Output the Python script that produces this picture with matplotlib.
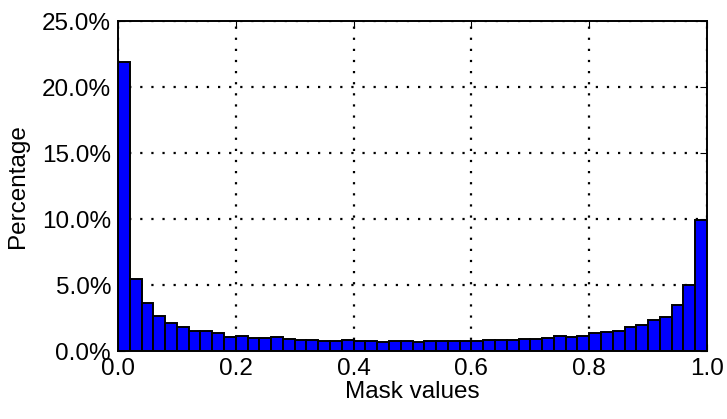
import matplotlib
matplotlib.use("Agg")
import matplotlib.pyplot as plt
import numpy as np
from matplotlib.ticker import FuncFormatter

bin_edges = [i / 50 for i in range(51)]
percent = [21.9, 5.43, 3.6, 2.68, 2.1, 1.82, 1.52, 1.49, 1.39, 1.04,
           1.1, 0.98, 0.96, 1.03, 0.88, 0.81, 0.81, 0.78, 0.76, 0.83,
           0.73, 0.76, 0.71, 0.76, 0.73,
           0.71, 0.73, 0.78, 0.78, 0.76, 0.78, 0.86, 0.83, 0.86, 0.93,
           0.93, 0.96, 1.16, 1.03, 1.16, 1.39, 1.44, 1.52, 1.8, 1.94,
           2.35, 2.58, 3.48, 4.97, 9.95]

fig = plt.figure(figsize=(7.27, 4.19), dpi=100)
ax = fig.add_axes([118/727, 1-351/419, 589/727, 330/419])
ax.bar(bin_edges[:-1], percent, width=0.02, align='edge', color='#0000ff',
       edgecolor='black', linewidth=1.4, zorder=2)
ax.set_xlim(0, 1)
ax.set_ylim(0, 25)
ax.set_xticks([0, 0.2, 0.4, 0.6, 0.8, 1.0])
ax.set_yticks([0, 5, 10, 15, 20, 25])
ax.yaxis.set_major_formatter(FuncFormatter(lambda v, p: f"{v:.1f}%"))
ax.xaxis.set_major_formatter(FuncFormatter(lambda v, p: f"{v:.1f}"))
ax.grid(True, color='black', linestyle=(0, (1, 4)), linewidth=1.6, zorder=0)
ax.set_axisbelow(True)
ax.tick_params(direction='in', labelsize=17.5, top=True, right=True, length=5, pad=5)
for s in ax.spines.values():
    s.set_linewidth(1.4)
ax.set_xlabel("Mask values", fontsize=17.5, labelpad=1, family='Liberation Sans')
ax.set_ylabel("Percentage", fontsize=17.5, labelpad=9, family='Liberation Sans')
for t in ax.get_xticklabels() + ax.get_yticklabels():
    t.set_family('Liberation Sans')
fig.savefig("out.png", dpi=100)
